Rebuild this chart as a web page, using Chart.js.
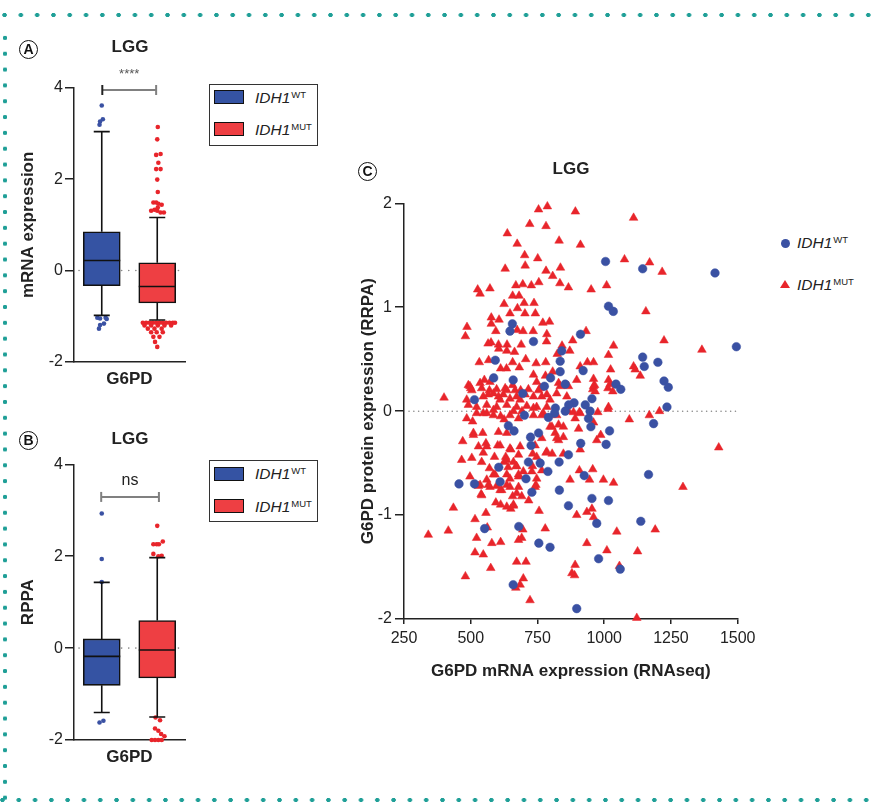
<!DOCTYPE html>
<html>
<head>
<meta charset="utf-8">
<title>G6PD in LGG</title>
<script src="https://cdn.jsdelivr.net/npm/chart.js@4.4.1/dist/chart.umd.min.js"></script>
<style>
  html, body { margin: 0; padding: 0; background: #fff; }
  body { position: relative; width: 880px; height: 802px; overflow: hidden;
         font-family: "Liberation Sans", Arial, sans-serif; color: #222; }
  canvas { position: absolute; }
  .dots-h { position: absolute; left: 0; width: 880px; height: 6px;
            background-image: radial-gradient(circle, #1f9f97 1.9px, rgba(31,159,151,0) 2.5px);
            background-size: 16.3px 6px; background-repeat: repeat-x; }
  .dots-v { position: absolute; left: 1.5px; top: 30px; width: 6px; height: 772px;
            background-image: radial-gradient(circle, #1f9f97 1.9px, rgba(31,159,151,0) 2.5px);
            background-size: 6px 15.83px; background-repeat: repeat-y; }
  .letter { position: absolute; width: 17px; height: 17px; border: 1.5px solid #111; border-radius: 50%;
            font-weight: bold; font-size: 14px; line-height: 17px; text-align: center; color: #111; }
  .title { position: absolute; font-weight: bold; font-size: 17px; transform: translate(-50%, -50%); color: #222; }
  .legbox { position: absolute; border: 1px solid #333; background: #fff; }
  .sw { position: absolute; width: 28px; height: 12px; border: 1.5px solid #111; }
  .lt { position: absolute; font-size: 15.5px; line-height: 18px; font-style: italic; white-space: nowrap; color: #222; }
  .lt span { font-style: normal; font-size: 9.5px; position: relative; top: -5px; margin-left: 1px; }
  .dot { position: absolute; width: 9px; height: 9px; border-radius: 50%; background: #3a51a3; }
  .tri { position: absolute; width: 0; height: 0; border-left: 5px solid transparent;
         border-right: 5px solid transparent; border-bottom: 8.5px solid #e8252b; }
</style>
</head>
<body>
<div class="dots-h" style="top:12px;background-position:-3.6px 0"></div>
<div class="dots-v"></div>
<div class="dots-h" style="top:797px;background-position:-5.7px 0"></div>

<canvas id="boxA" width="200" height="360" style="left:0;top:30px"></canvas>
<canvas id="boxB" width="200" height="358" style="left:0;top:410px"></canvas>
<canvas id="scatterC" width="420" height="520" style="left:345px;top:180px"></canvas>

<div class="letter" style="left:19px;top:40px">A</div>
<div class="letter" style="left:19px;top:431px">B</div>
<div class="letter" style="left:358px;top:162px">C</div>
<div class="title" style="left:130px;top:47px">LGG</div>
<div class="title" style="left:130px;top:439px">LGG</div>
<div class="title" style="left:571px;top:169px">LGG</div>

<div class="legbox" style="left:209px;top:84px;width:107px;height:60px"></div>
<div class="sw" style="left:214px;top:90px;background:#3553a3"></div>
<div class="lt" style="left:255px;top:88.5px">IDH1<span>WT</span></div>
<div class="sw" style="left:214px;top:122px;background:#ee3f43"></div>
<div class="lt" style="left:255px;top:121px">IDH1<span>MUT</span></div>

<div class="legbox" style="left:209px;top:460px;width:107px;height:60px"></div>
<div class="sw" style="left:214px;top:466.5px;background:#3553a3"></div>
<div class="lt" style="left:255px;top:465px">IDH1<span>WT</span></div>
<div class="sw" style="left:214px;top:499px;background:#ee3f43"></div>
<div class="lt" style="left:255px;top:497.5px">IDH1<span>MUT</span></div>

<div class="dot" style="left:780.5px;top:238.5px"></div>
<div class="lt" style="left:797px;top:234px">IDH1<span>WT</span></div>
<div class="tri" style="left:780px;top:280px"></div>
<div class="lt" style="left:797px;top:276px">IDH1<span>MUT</span></div>

<script>
Chart.defaults.font.family = '"Liberation Sans", Arial, sans-serif';
Chart.defaults.color = '#222';

const groups = ['IDH1 WT', 'IDH1 MUT'];

// A: G6PD mRNA expression, [lower whisker, Q1, median, Q3, upper whisker]
const mrnaBoxWT = [-0.98, -0.33, 0.22, 0.85, 3.04];
const mrnaBoxMUT = [-1.08, -0.71, -0.35, 0.17, 1.16];
// outliers [x jitter around group position, value]
const mrnaOutWT = [[1.0, 3.61], [1.02, 3.31], [0.97, 3.26], [0.96, 3.19],
  [0.92, -1.03], [0.97, -1.05], [1.07, -1.03], [1.09, -1.06], [1.04, -1.16], [0.97, -1.19], [0.95, -1.27]];
const mrnaOutMUT = [[2.01, 3.14], [2.0, 2.87], [1.98, 2.53], [2.06, 2.55], [2.02, 2.36], [1.98, 2.22], [2.06, 2.22],
  [2.0, 1.99], [2.01, 1.72], [1.93, 1.49], [1.98, 1.49], [2.02, 1.46], [2.08, 1.44], [1.89, 1.31], [1.95, 1.33],
  [2.0, 1.31], [2.06, 1.27], [2.12, 1.27], [2.01, 1.38],
  [1.74, -1.14], [1.8, -1.14], [1.86, -1.14], [1.92, -1.14], [1.98, -1.14], [2.04, -1.14], [2.1, -1.14],
  [2.16, -1.14], [2.22, -1.14], [2.28, -1.14], [2.32, -1.14], [1.77, -1.2], [1.89, -1.2], [2.01, -1.2],
  [2.13, -1.2], [2.25, -1.2], [1.83, -1.27], [1.95, -1.27], [2.08, -1.27], [1.89, -1.35], [1.99, -1.35],
  [2.1, -1.35], [1.93, -1.45], [2.04, -1.45], [1.96, -1.56], [2.0, -1.67]];

// B: G6PD protein (RPPA)
const rppaBoxWT = [-1.40, -0.81, -0.18, 0.20, 1.43];
const rppaBoxMUT = [-1.50, -0.65, -0.04, 0.60, 1.97];
const rppaOutWT = [[1.0, 2.93], [1.0, 1.94], [1.0, 1.44], [0.96, -1.62], [1.03, -1.58]];
const rppaOutMUT = [[2.0, 2.66], [1.93, 2.26], [1.99, 2.26], [2.03, 2.26], [2.1, 2.32], [1.93, 2.05], [2.02, 2.0],
  [2.08, 2.01], [1.97, -1.51], [2.05, -1.57], [1.96, -1.75], [2.02, -1.8], [2.07, -1.87], [2.13, -1.92],
  [1.9, -2.0], [1.96, -2.0], [2.02, -2.0], [2.08, -2.0]];

// C: RNAseq (x) vs RPPA (y)
const wtPoints = [[1005, 1.44], [1144, 1.37], [1415, 1.33], [1016, 1.01], [1034, 0.96], [656, 0.84], [647, 0.77],
  [735, 0.67], [911, 0.74], [1495, 0.62], [841, 0.58], [592, 0.49], [835, 0.48], [1144, 0.52], [1150, 0.43],
  [1201, 0.47], [835, 0.38], [921, 0.39], [586, 0.32], [659, 0.30], [799, 0.32], [776, 0.24], [854, 0.26],
  [1044, 0.26], [1062, 0.21], [1224, 0.29], [1240, 0.23], [695, 0.17], [514, 0.11], [954, 0.12], [887, 0.08],
  [867, 0.06], [929, 0.06], [817, 0.03], [1235, 0.04], [701, -0.04], [814, -0.02], [854, 0.0], [947, 0.0],
  [941, -0.07], [950, -0.15], [791, -0.06], [1185, -0.12], [1020, -0.19], [641, -0.14], [662, -0.19],
  [754, -0.21], [724, -0.25], [726, -0.33], [912, -0.31], [1007, -0.32], [866, -0.42], [831, -0.49],
  [716, -0.49], [760, -0.50], [605, -0.54], [789, -0.58], [925, -0.62], [1166, -0.61], [456, -0.70],
  [514, -0.70], [610, -0.68], [707, -0.65], [832, -0.76], [729, -0.78], [954, -0.84], [1016, -0.86],
  [866, -0.91], [1137, -1.06], [972, -1.08], [552, -1.13], [680, -1.11], [755, -1.27], [797, -1.31],
  [979, -1.42], [1060, -1.52], [659, -1.67], [897, -1.90]];

const mutPoints = [[787, 1.97], [754, 1.94], [892, 1.92], [1110, 1.86], [721, 1.80], [782, 1.78], [637, 1.71],
  [831, 1.64], [674, 1.61], [911, 1.60], [702, 1.50], [751, 1.47], [1076, 1.46], [1170, 1.43], [704, 1.40],
  [836, 1.38], [629, 1.37], [782, 1.35], [1217, 1.34], [807, 1.30], [755, 1.24], [834, 1.23], [669, 1.21],
  [695, 1.22], [727, 1.21], [866, 1.19], [1009, 1.21], [526, 1.17], [572, 1.18], [535, 1.13], [951, 1.17],
  [657, 1.11], [681, 1.11], [625, 1.03], [700, 1.04], [737, 1.04], [675, 0.99], [647, 0.94], [703, 0.94],
  [742, 0.94], [1156, 0.96], [577, 0.90], [606, 0.88], [795, 0.86], [770, 0.85], [486, 0.81], [577, 0.84],
  [674, 0.78], [696, 0.77], [734, 0.77], [480, 0.72], [594, 0.77], [932, 0.77], [785, 0.74], [784, 0.67],
  [565, 0.65], [576, 0.66], [604, 0.64], [636, 0.64], [842, 0.63], [882, 0.68], [1224, 0.68], [1035, 0.63],
  [689, 0.64], [605, 0.60], [635, 0.58], [664, 0.57], [871, 0.58], [1366, 0.59], [1016, 0.54], [824, 0.55],
  [532, 0.47], [567, 0.49], [657, 0.47], [706, 0.50], [745, 0.46], [781, 0.47], [937, 0.47], [960, 0.47],
  [910, 0.43], [1024, 0.40], [1110, 0.43], [1116, 0.40], [1135, 0.34], [612, 0.41], [634, 0.41], [682, 0.42],
  [807, 0.38], [551, 0.30], [735, 0.35], [780, 0.34], [897, 0.30], [960, 0.31], [491, 0.25], [500, 0.22],
  [964, 0.25], [1016, 0.30], [1022, 0.26], [1014, 0.22], [400, 0.13], [541, 0.22], [570, 0.20], [597, 0.21],
  [629, 0.22], [657, 0.25], [687, 0.20], [716, 0.21], [754, 0.20], [829, 0.27], [866, 0.24], [957, 0.21],
  [735, 0.14], [497, 0.24], [504, 0.20], [547, 0.14], [566, 0.16], [585, 0.17], [604, 0.14], [610, 0.11],
  [622, 0.16], [635, 0.20], [647, 0.12], [666, 0.20], [672, 0.14], [685, 0.11], [704, 0.16], [747, 0.28],
  [760, 0.22], [766, 0.14], [785, 0.16], [797, 0.11], [822, 0.17], [835, 0.24], [860, 0.14], [485, 0.11],
  [491, 0.06], [522, 0.04], [560, 0.06], [597, 0.04], [635, 0.06], [672, 0.04], [710, 0.05], [747, 0.04],
  [785, 0.04], [535, 0.27], [572, 0.28], [960, 0.24], [966, 0.19], [1032, 0.19], [1016, 0.04],
  [1429, -0.35], [1295, -0.73], [1207, 0.0], [1169, -0.04], [1094, -0.08], [1014, 0.02], [976, -0.01],
  [987, -0.23], [972, -0.28], [960, -0.11], [910, -0.37], [904, -0.17], [866, 0.0], [847, -0.15], [829, -0.28],
  [805, -0.41], [782, -0.40], [804, -0.15], [766, -0.26], [741, -0.33], [732, -0.41], [747, -0.44],
  [731, -0.53], [766, -0.57], [744, -0.71], [756, -0.96], [779, -1.13], [695, -1.14], [691, -1.22],
  [679, -1.24], [650, -0.94], [660, -0.91], [635, -0.92], [612, -0.90], [594, -0.88], [657, -0.82],
  [691, -0.82], [717, -0.86], [616, -0.76], [635, -0.71], [679, -0.73], [647, -0.65], [679, -0.63],
  [697, -0.58], [670, -0.53], [640, -0.54], [625, -0.49], [660, -0.49], [679, -0.42], [650, -0.37],
  [631, -0.44], [589, -0.44], [601, -0.33], [604, -0.20], [635, -0.21], [625, -0.08], [585, -0.04],
  [547, -0.02], [485, -0.07], [507, -0.10], [470, -0.29], [510, -0.21], [545, -0.21], [557, -0.31],
  [529, -0.34], [547, -0.40], [466, -0.47], [504, -0.45], [541, -0.49], [570, -0.55], [585, -0.61],
  [560, -0.66], [497, -0.63], [529, -0.72], [539, -0.80], [572, -0.73], [597, -0.72], [435, -0.93],
  [557, -0.98], [516, -1.04], [562, -1.12], [579, -1.27], [612, -1.26], [522, -1.22], [341, -1.19],
  [416, -1.15], [516, -1.36], [547, -1.38], [575, -1.51], [480, -1.59], [672, -1.45], [707, -1.45],
  [697, -1.61], [685, -1.67], [669, -1.70], [722, -1.82], [891, -1.48], [889, -1.58], [879, -1.56],
  [897, -1.00], [935, -0.97], [954, -0.94], [960, -1.02], [935, -1.27], [1010, -1.34], [1047, -1.16],
  [1057, -1.49], [1125, -1.35], [1191, -1.14], [1122, -1.99], [1035, -0.69], [997, -0.66], [957, -0.56],
  [945, -0.66], [872, -0.66], [907, -0.57], [847, -0.41], [816, -0.21], [910, -0.02], [822, -0.04],
  [772, -0.02], [735, -0.04], [692, 0.0], [647, -0.04], [612, -0.05], [907, -0.01], [885, -0.01],
  [891, -0.07], [522, -0.02], [560, -0.02], [585, 0.01], [660, 0.0], [679, -0.07], [735, 0.03], [766, -0.04],
  [510, -0.23], [560, -0.34], [610, -0.33], [647, -0.36], [685, -0.34], [635, -0.47], [672, -0.53],
  [591, -0.61], [635, -0.61], [679, -0.61], [535, -0.71], [566, -0.71], [610, -0.76], [647, -0.73],
  [541, -0.81], [672, -0.79], [741, -0.73], [747, -0.65], [729, -0.58], [785, -0.39], [822, -0.26],
  [847, -0.25], [797, -0.15], [829, -0.13], [660, -0.90]];

const blueBox = '#3553a3', redBox = '#ee3f43';
const blueDot = '#3a51a3', redDot = '#e8252b';

function toXY(list) { return list.map(([x, y]) => ({ x, y })); }

function boxParts(stats, sig) {
  return {
    id: 'boxParts',
    beforeDatasetsDraw(chart) {
      const { ctx, chartArea: a, scales: { y } } = chart;
      const y0 = y.getPixelForValue(0);
      ctx.save();
      ctx.strokeStyle = '#8a8a8a';
      ctx.lineWidth = 1.6;
      ctx.lineCap = 'round';
      ctx.setLineDash([0.1, 7]);
      ctx.beginPath();
      ctx.moveTo(a.left + 5, y0);
      ctx.lineTo(a.right, y0);
      ctx.stroke();
      ctx.restore();
    },
    afterDatasetsDraw(chart) {
      const { ctx, scales: { x, y } } = chart;
      const bars = chart.getDatasetMeta(0).data;
      ctx.save();
      ctx.strokeStyle = '#111';
      ctx.lineWidth = 1.6;
      stats.forEach((s, i) => {
        const cx = bars[i].x, half = bars[i].width / 2, cap = 8;
        const [lo, q1, med, q3, hi] = s.map(v => y.getPixelForValue(v));
        ctx.beginPath();
        ctx.moveTo(cx, q3); ctx.lineTo(cx, hi);
        ctx.moveTo(cx - cap, hi); ctx.lineTo(cx + cap, hi);
        ctx.moveTo(cx, q1); ctx.lineTo(cx, lo);
        ctx.moveTo(cx - cap, lo); ctx.lineTo(cx + cap, lo);
        ctx.moveTo(cx - half, med); ctx.lineTo(cx + half, med);
        ctx.stroke();
      });
      // significance bracket
      const x1 = x.getPixelForValue(sig.from), x2 = x.getPixelForValue(sig.to);
      const yb = y.getPixelForValue(sig.at);
      ctx.strokeStyle = '#808080';
      ctx.lineWidth = 2;
      ctx.beginPath();
      ctx.moveTo(x1, yb); ctx.lineTo(x2, yb);
      ctx.moveTo(x2, yb - 5); ctx.lineTo(x2, yb + 5);
      ctx.stroke();
      ctx.strokeStyle = sig.capColor;
      ctx.beginPath();
      ctx.moveTo(x1, yb - 5); ctx.lineTo(x1, yb + 5);
      ctx.stroke();
      ctx.fillStyle = sig.color;
      ctx.font = sig.font;
      ctx.textAlign = 'center';
      ctx.textBaseline = 'middle';
      ctx.fillText(sig.text, (x1 + x2) / 2, yb - sig.lift);
      ctx.restore();
    }
  };
}

function boxChart(id, boxWT, boxMUT, outWT, outMUT, yTitle, padTop, sig) {
  const stats = [boxWT, boxMUT];
  return new Chart(document.getElementById(id), {
    type: 'bar',
    data: {
      datasets: [
        {
          label: 'box', order: 1,
          data: stats.map((s, i) => ({ x: i + 1, y: [s[1], s[3]] })),
          backgroundColor: [blueBox, redBox],
          borderColor: '#111', borderWidth: 1.6, borderSkipped: false, barThickness: 37
        },
        { type: 'scatter', label: groups[0], order: 0, data: toXY(outWT), pointRadius: 2.3,
          backgroundColor: blueDot, borderWidth: 0, clip: false },
        { type: 'scatter', label: groups[1], order: 0, data: toXY(outMUT), pointRadius: 2.3,
          backgroundColor: redDot, borderWidth: 0, clip: false }
      ]
    },
    options: {
      responsive: false,
      animation: false,
      layout: { padding: { top: padTop, right: 15, left: 0, bottom: 0 } },
      plugins: { legend: { display: false }, tooltip: { enabled: false } },
      scales: {
        x: {
          type: 'linear', min: 0.5, max: 2.5, offset: false,
          ticks: { display: false },
          grid: { display: false, offset: false },
          border: { color: '#222', width: 1.5 },
          title: { display: true, text: 'G6PD', color: '#222', font: { size: 17, weight: 'bold' }, padding: 0 },
          afterFit(s) { s.height = 28; }
        },
        y: {
          min: -2, max: 4,
          ticks: { stepSize: 2, color: '#222', font: { size: 16 }, padding: 2 },
          grid: { drawOnChartArea: false, tickLength: 9, color: '#222', lineWidth: 1.5 },
          border: { color: '#222', width: 1.5 },
          title: { display: true, text: yTitle, color: '#222', font: { size: 17, weight: 'bold' },
                   padding: { top: 18 } },
          afterFit(s) { s.width = 74; }
        }
      }
    },
    plugins: [boxParts(stats, sig)]
  });
}

boxChart('boxA', mrnaBoxWT, mrnaBoxMUT, mrnaOutWT, mrnaOutMUT, 'mRNA expression', 57.7,
  { from: 1.01, to: 1.98, at: 3.95, text: '****', lift: 16, color: '#555', capColor: '#222', font: '13px "Liberation Sans"' });
boxChart('boxB', rppaBoxWT, rppaBoxMUT, rppaOutWT, rppaOutMUT, 'RPPA', 54.3,
  { from: 0.99, to: 2.03, at: 3.29, text: 'ns', lift: 16, color: '#222', capColor: '#808080', font: '16px "Liberation Sans"' });

const zeroLine = {
  id: 'zeroLine',
  beforeDatasetsDraw(chart) {
    const { ctx, chartArea: a, scales: { y } } = chart;
    const y0 = y.getPixelForValue(0);
    ctx.save();
    ctx.strokeStyle = '#8a8a8a';
    ctx.lineWidth = 1.5;
    ctx.lineCap = 'round';
    ctx.setLineDash([0.1, 4.7]);
    ctx.beginPath();
    ctx.moveTo(a.left + 5, y0);
    ctx.lineTo(a.right, y0);
    ctx.stroke();
    ctx.restore();
  }
};

new Chart(document.getElementById('scatterC'), {
  type: 'scatter',
  data: {
    datasets: [
      { label: groups[0], order: 0, data: toXY(wtPoints), pointStyle: 'circle', pointRadius: 4.3,
        backgroundColor: blueDot, borderColor: blueDot, borderWidth: 0.5, clip: false },
      { label: groups[1], order: 1, data: toXY(mutPoints), pointStyle: 'triangle', pointRadius: 5,
        backgroundColor: redDot, borderColor: redDot, borderWidth: 0.5, clip: false }
    ]
  },
  options: {
    responsive: false,
    animation: false,
    layout: { padding: { top: 23.3, right: 27.3, left: 0, bottom: 0 } },
    plugins: { legend: { display: false }, tooltip: { enabled: false } },
    scales: {
      x: {
        type: 'linear', min: 250, max: 1500,
        ticks: { stepSize: 250, color: '#222', font: { size: 16 }, padding: 5, callback: v => String(v) },
        grid: { drawOnChartArea: false, tickLength: 5, color: '#222', lineWidth: 1.5 },
        border: { color: '#222', width: 1.5 },
        title: { display: true, text: 'G6PD mRNA expression (RNAseq)', color: '#222',
                 font: { size: 17, weight: 'bold' }, padding: { bottom: 18 } },
        afterFit(s) { s.height = 81; }
      },
      y: {
        min: -2, max: 2,
        ticks: { stepSize: 1, color: '#222', font: { size: 16 }, padding: 3 },
        grid: { drawOnChartArea: false, tickLength: 9, color: '#222', lineWidth: 1.5 },
        border: { color: '#222', width: 1.5 },
        title: { display: true, text: 'G6PD protein expression (RRPA)', color: '#222',
                 font: { size: 17, weight: 'bold' }, padding: { top: 13 } },
        afterFit(s) { s.width = 59; }
      }
    }
  },
  plugins: [zeroLine]
});
</script>
</body>
</html>
